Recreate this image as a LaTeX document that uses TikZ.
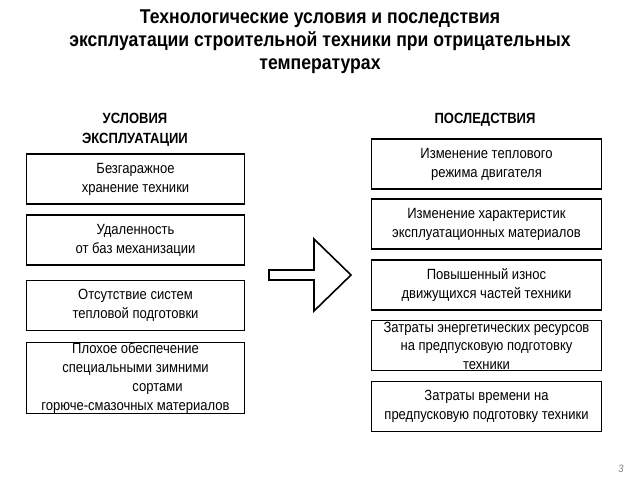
\documentclass[tikz,border=0pt]{standalone}
\usepackage{fontspec}
\setmainfont[FakeStretch=0.88]{Liberation Sans}
\usetikzlibrary{positioning}

\tikzset{
  box/.style={draw, line width=0.9pt, align=center, inner sep=0pt,
    font=\fontsize{11.1}{14.3}\selectfont},
  lbox/.style={box, minimum width=163pt, minimum height=37.5pt},
  rbox/.style={box, minimum width=173pt, minimum height=37.5pt},
  head/.style={align=center, font=\fontsize{11.1}{15}\selectfont\bfseries}
}

\begin{document}
\begin{tikzpicture}[x=0.75pt,y=-0.75pt]
          \useasboundingbox (0,0) rectangle (640,480);
          \node[align=center, font=\fontsize{15}{17.3}\selectfont\bfseries] (title) at (320,41.5)
            {Технологические условия и последствия\\
             эксплуатации строительной техники при отрицательных\\
             температурах};
          \node[head] (cond) at (135,130) {УСЛОВИЯ\\ЭКСПЛУАТАЦИИ};
          \node[head] (cons) at (485,120) {ПОСЛЕДСТВИЯ};
          % left column
          \node[lbox] (garage) at (135.5,179) {Безгаражное\\хранение техники};
          \node[lbox] (remote) at (135.5,240) {Удаленность\\от баз механизации};
          \node[lbox] (heat) at (135.5,305.5) {Отсутствие систем\\тепловой подготовки};
          \node[lbox, minimum height=48pt] (fuel) at (135.5,378)
            {Плохое обеспечение\\специальными зимними\\\hspace*{33pt}сортами\\горюче-смазочных материалов};
          % right column
          \node[rbox] (engine) at (486.5,164) {Изменение теплового\\режима двигателя};
          \node[rbox] (mater) at (486.5,224) {Изменение характеристик\\эксплуатационных материалов};
          \node[rbox] (wear) at (486.5,285) {Повышенный износ\\движущихся частей техники};
          \node[rbox, font=\fontsize{11.1}{13.9}\selectfont] (energy) at (486.5,345.5)
            {Затраты энергетических ресурсов\\на предпусковую подготовку\\техники};
          \node[rbox] (time) at (486.5,406.5) {Затраты времени на\\предпусковую подготовку техники};
          % big arrow
          \draw[line width=1.2pt, line join=miter]
            (269,270) -- (314,270) -- (314,239) -- (351,275) -- (314,311)
            -- (314,280) -- (269,280) -- cycle;
          \node[text=gray, font=\footnotesize\itshape] (page) at (621,469) {3};
        \end{tikzpicture}
\end{document}
